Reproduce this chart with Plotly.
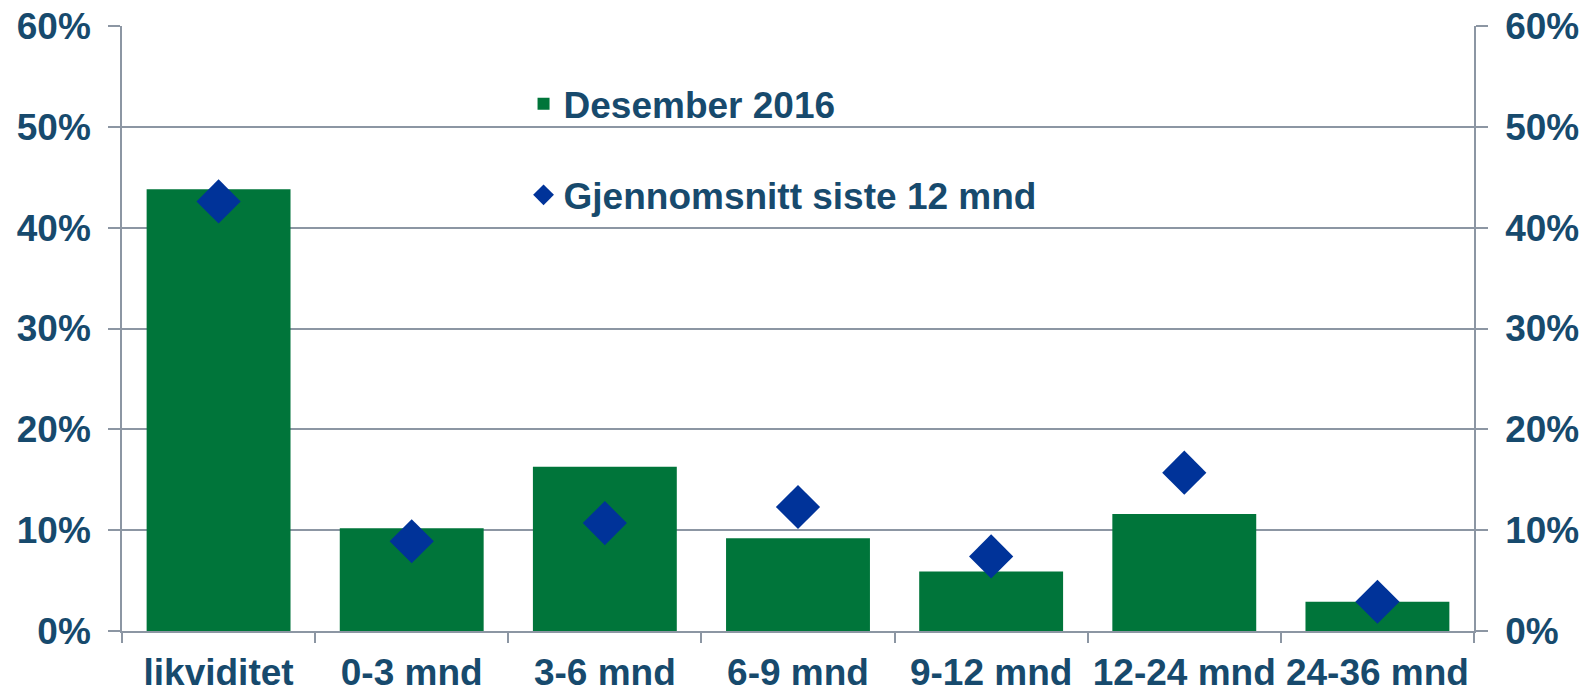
import plotly.graph_objects as go

# categories and values (percent)
categories = ["likviditet", "0-3 mnd", "3-6 mnd", "6-9 mnd", "9-12 mnd", "12-24 mnd", "24-36 mnd"]
desember_2016 = [43.8, 10.2, 16.3, 9.2, 5.9, 11.6, 2.9]
snitt_12_mnd = [42.6, 8.9, 10.7, 12.3, 7.4, 15.7, 2.9]
y_ticks = [0, 10, 20, 30, 40, 50, 60]
y_tick_text = [f"{v}%" for v in y_ticks]

GREEN = "#00753A"
BLUE = "#003399"
TEXT = "#174A6D"
GRID = "#8C96A3"
FONT = "Liberation Sans, Arial, sans-serif"

fig = go.Figure()

fig.add_trace(go.Bar(
    x=categories, y=desember_2016,
    name="Desember 2016",
    marker=dict(color=GREEN, line=dict(width=0)),
    legendgroup="a",
))

fig.add_trace(go.Scatter(
    x=categories, y=snitt_12_mnd,
    name="Gjennomsnitt siste 12 mnd",
    mode="markers",
    marker=dict(symbol="diamond", size=34, color=BLUE),
    legendgroup="b",
    yaxis="y2",
))

axis_common = dict(
    range=[0, 60],
    tickvals=y_ticks,
    ticktext=y_tick_text,
    tickfont=dict(family=FONT, size=37, color=TEXT, weight="bold"),
    showline=True, linecolor=GRID, linewidth=1.5,
    ticks="outside", ticklen=12, tickcolor=GRID, tickwidth=1.5,
    zeroline=False,
    automargin=False,
)

fig.update_layout(
    width=1589, height=692,
    margin=dict(l=122, r=115, t=26, b=61, autoexpand=False),
    plot_bgcolor="white", paper_bgcolor="white",
    bargap=0.255,
    showlegend=True,
    legend=dict(
        x=0.297, y=0.922, xanchor="left", yanchor="top",
        font=dict(family=FONT, size=37, color=TEXT, weight="bold"),
        bgcolor="rgba(0,0,0,0)",
        tracegroupgap=40,
        itemsizing="trace",
    ),
    xaxis=dict(
        type="category",
        showline=True, linecolor=GRID, linewidth=1.5,
        ticks="outside", tickson="boundaries", ticklen=10, tickcolor=GRID, tickwidth=1.5,
        tickfont=dict(family=FONT, size=37, color=TEXT, weight="bold"),
        showgrid=False,
        ticklabelstandoff=8,
        automargin=False,
    ),
    yaxis=dict(
        **axis_common,
        side="left",
        showgrid=True, gridcolor=GRID, gridwidth=1.5,
        ticklabelstandoff=10,
    ),
    yaxis2=dict(
        **axis_common,
        side="right",
        overlaying="y",
        showgrid=False,
        ticklabelstandoff=10,
    ),
)

# the page body has a default 8px margin; drop it so the figure fills the window
fig.write_html(
    "out.html",
    config={"displayModeBar": False},
    post_script="document.body.style.margin='0';document.body.style.overflow='hidden';",
)
